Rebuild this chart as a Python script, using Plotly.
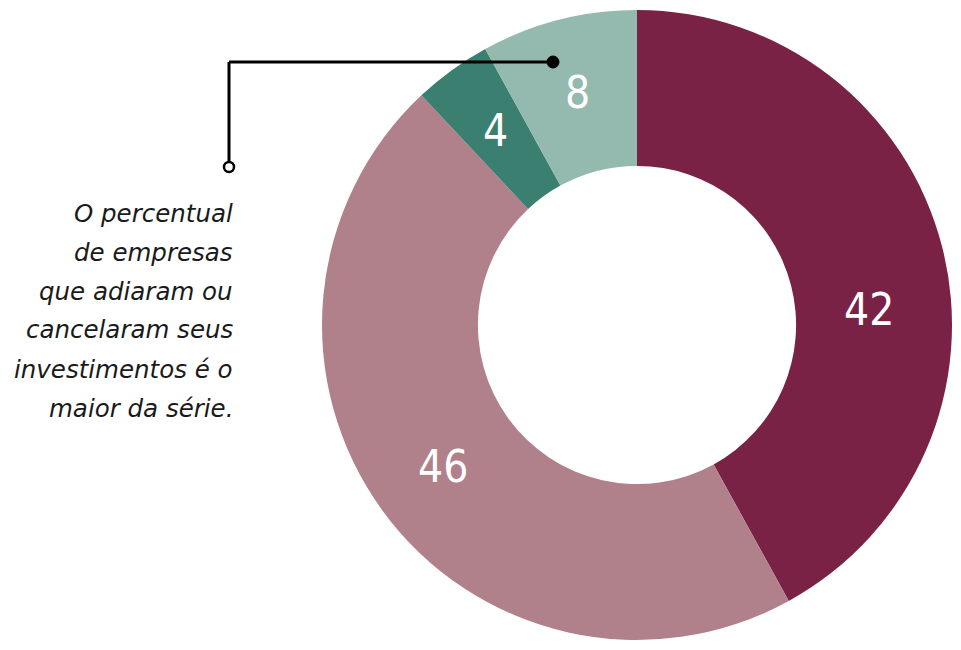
import math
import plotly.graph_objects as go

values = [42, 46, 4, 8]
labels = ["Slice A", "Slice B", "Slice C", "Slice D"]
colors = ["#7A2245", "#B0818B", "#3A7F6F", "#94B9AF"]
note_lines = ["O percentual", "de empresas", "que adiaram ou",
              "cancelaram seus", "investimentos é o", "maior da série."]

W, H = 961, 650
OFF = 8  # page body margin in the browser
cx, cy, R = 637 - OFF, 325 - OFF, 315
HOLE = 0.505
label_r = 240
label_nudge_y = {0: 44}  # designer moved the first label down

fig = go.Figure(go.Pie(
    values=values, labels=labels, sort=False, direction="clockwise", rotation=0,
    hole=HOLE, marker=dict(colors=colors, line=dict(width=0)),
    textinfo="none",
    domain=dict(x=[(cx - R) / W, (cx + R) / W], y=[1 - (cy + R) / H, 1 - (cy - R) / H]),
    showlegend=False, hoverinfo="skip",
))

def px(x):
    return (x - OFF) / W

def py(y):
    return 1 - (y - OFF) / H

shapes = [
    dict(type="line", xref="paper", yref="paper", x0=px(553), y0=py(62), x1=px(229), y1=py(62),
         line=dict(color="black", width=3)),
    dict(type="line", xref="paper", yref="paper", x0=px(229), y0=py(62), x1=px(229), y1=py(162),
         line=dict(color="black", width=3)),
    dict(type="circle", xref="paper", yref="paper", x0=px(224), y0=py(162), x1=px(234), y1=py(172),
         line=dict(color="black", width=2.5), fillcolor="white"),
    dict(type="circle", xref="paper", yref="paper", x0=px(547), y0=py(56), x1=px(559), y1=py(68),
         line=dict(color="black", width=1), fillcolor="black"),
]

annotations = []
total = sum(values)
cum = 0
for i, v in enumerate(values):
    mid = (cum + v / 2) / total * 2 * math.pi
    cum += v
    lx = cx + label_r * math.sin(mid)
    ly = cy - label_r * math.cos(mid) + label_nudge_y.get(i, 0)
    annotations.append(dict(
        text=str(v), xref="paper", yref="paper", x=lx / W, y=1 - ly / H,
        xanchor="center", yanchor="middle", showarrow=False,
        font=dict(size=44, color="white", family="DejaVu Sans Condensed"),
    ))

for i, t in enumerate(note_lines):
    annotations.append(dict(
        text=f"<i>{t}</i>", xref="paper", yref="paper", x=px(235), y=py(213 + 39 * i),
        xanchor="right", yanchor="middle", showarrow=False,
        font=dict(size=24.5, color="#1a1a1a", family="DejaVu Sans"),
    ))

fig.update_layout(
    width=W, height=H, margin=dict(l=0, r=0, t=0, b=0),
    paper_bgcolor="white", plot_bgcolor="white",
    shapes=shapes, annotations=annotations,
)

fig.write_html("out.html")
